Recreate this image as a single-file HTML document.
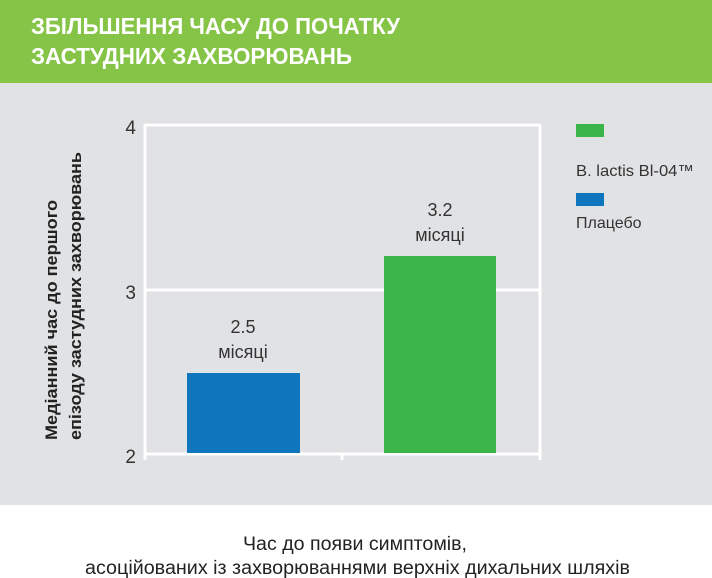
<!DOCTYPE html>
<html><head><meta charset="utf-8"><style>
html,body{margin:0;padding:0;width:712px;height:578px;overflow:hidden;background:#fff}
svg{display:block}
text{font-family:"Liberation Sans","DejaVu Sans",sans-serif}
</style></head><body>
<svg width="712" height="578" viewBox="0 0 712 578">
<rect x="0" y="0" width="712" height="83" fill="#86c447"/>
<rect x="0" y="83" width="712" height="422" fill="#e1e2e4"/>
<text x="31" y="34" font-size="23" font-weight="bold" fill="#fff" textLength="369" lengthAdjust="spacingAndGlyphs">ЗБІЛЬШЕННЯ ЧАСУ ДО ПОЧАТКУ</text>
<text x="31" y="64" font-size="23" font-weight="bold" fill="#fff" textLength="321" lengthAdjust="spacingAndGlyphs">ЗАСТУДНИХ ЗАХВОРЮВАНЬ</text>
<g stroke="#fff" stroke-width="3" fill="none">
<line x1="145" y1="125" x2="540" y2="125"/>
<line x1="145" y1="290" x2="540" y2="290"/>
<line x1="145" y1="454" x2="540" y2="454"/>
<line x1="145" y1="124" x2="145" y2="460"/>
<line x1="540" y1="124" x2="540" y2="460"/>
<line x1="342" y1="454" x2="342" y2="460"/>
</g>
<rect x="187" y="373" width="113" height="80" fill="#0f75bc"/>
<rect x="384" y="256" width="112" height="197" fill="#3bb54a"/>
<g font-size="19" fill="#333" text-anchor="end">
<text x="136" y="134">4</text>
<text x="136" y="299">3</text>
<text x="136" y="463">2</text>
</g>
<g font-size="18" fill="#333" text-anchor="middle">
<text x="243" y="333">2.5</text>
<text x="243" y="358">місяці</text>
<text x="440" y="216">3.2</text>
<text x="440" y="241">місяці</text>
</g>
<rect x="576" y="124" width="28" height="13" fill="#3bb54a"/>
<rect x="576" y="193" width="28" height="13" fill="#0f75bc"/>
<text x="576" y="176" font-size="16" fill="#333" textLength="118" lengthAdjust="spacingAndGlyphs">B. lactis Bl-04™</text>
<text x="576" y="228" font-size="16" fill="#333">Плацебо</text>
<g font-size="17" font-weight="bold" fill="#222">
<text transform="translate(57,440) rotate(-90)" textLength="240" lengthAdjust="spacingAndGlyphs">Медіанний час до першого</text>
<text transform="translate(81,440) rotate(-90)" textLength="288" lengthAdjust="spacingAndGlyphs">епізоду застудних захворювань</text>
</g>
<g font-size="19" fill="#222">
<text x="243" y="550" textLength="224" lengthAdjust="spacingAndGlyphs">Час до появи симптомів,</text>
<text x="85" y="574" textLength="545" lengthAdjust="spacingAndGlyphs">асоційованих із захворюваннями верхніх дихальних шляхів</text>
</g>
</svg>
</body></html>
